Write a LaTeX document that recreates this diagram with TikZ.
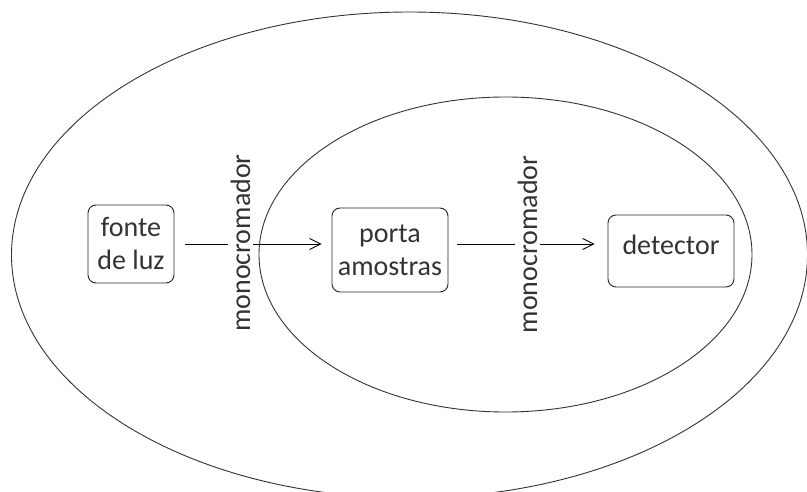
\documentclass[tikz,border=0pt]{standalone}
\usepackage{fontspec}
\setmainfont{Carlito}
\usetikzlibrary{arrows.meta}
\begin{document}
\begin{tikzpicture}[x=1pt,y=-1pt,
  ring/.style={draw=black!80,line width=0.9pt},
  boxnode/.style={draw=black!85,line width=0.9pt,rounded corners=8pt,align=center,inner sep=0pt,text=black!80,font=\fontsize{28}{33}\selectfont},
  monolabel/.style={rotate=90,anchor=base,fill=white,inner sep=3pt,text=black!80,font=\fontsize{28}{33}\selectfont},
  arr/.style={draw=black,line width=0.9pt,-{Straight Barb[length=11pt,width=11pt,line width=0.9pt]}}
]
\useasboundingbox (0,0) rectangle (807,492);
\fill[white] (0,0) rectangle (807,492);
\draw[ring] (409.5,255) ellipse [x radius=398, y radius=243];
\draw[ring] (505.5,254.5) ellipse [x radius=246.5, y radius=157.5];
\node[boxnode,minimum width=86pt,minimum height=78pt] (fonte) at (131,244) {fonte\\de luz};
\node[boxnode,minimum width=116pt,minimum height=84pt] (porta) at (390,250) {porta\\amostras};
\node[boxnode,minimum width=126pt,minimum height=72pt,text height=19.6pt,text depth=12pt] (detector) at (671,251) {detector};
\draw[arr,shorten <=11pt,shorten >=10pt] (fonte.east) -- (fonte.east -| porta.west);
\draw[arr,shorten <=9pt,shorten >=13pt] (porta.east |- fonte.east) -- (detector.west |- fonte.east);
\node[monolabel] (mono1) at (250,243) {monocromador};
\node[monolabel] (mono2) at (537,244.5) {monocromador};
\end{tikzpicture}
\end{document}
